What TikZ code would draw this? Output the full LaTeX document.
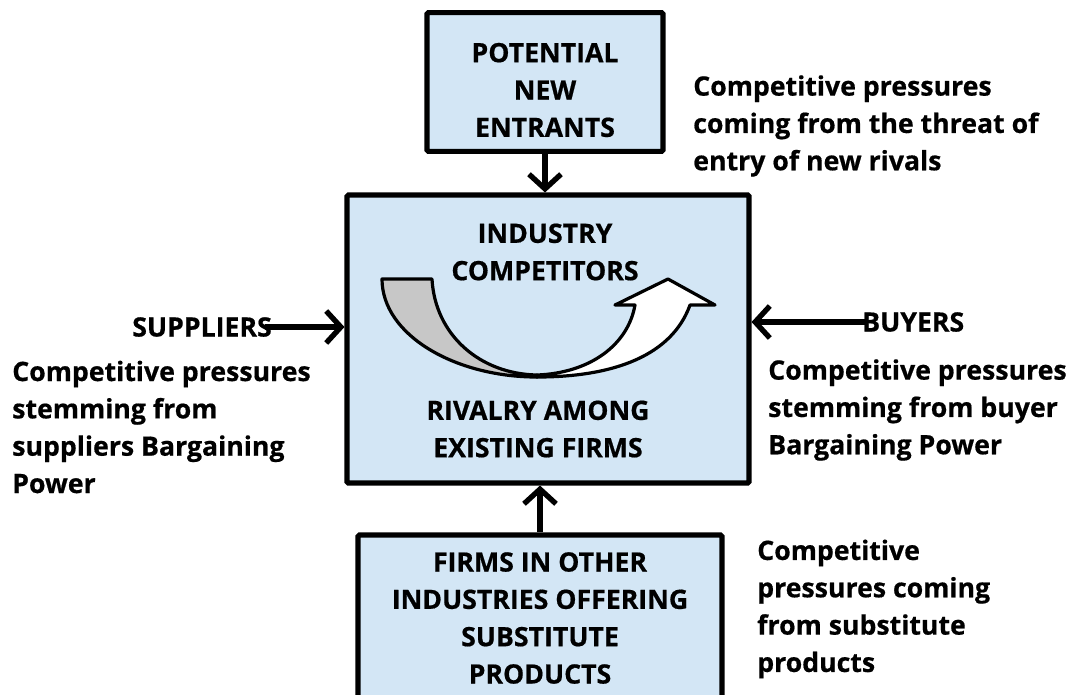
\documentclass[tikz,border=0pt]{standalone}
\usepackage{fontspec}
\setmainfont{Open Sans}[BoldFeatures={FakeBold=0.6}]
\usepackage{tikz}
\usetikzlibrary{positioning,arrows.meta}
\definecolor{boxblue}{RGB}{211,230,245}

\begin{document}
\begin{tikzpicture}[x=0.75pt,y=0.75pt,yscale=-1,xscale=1,
  box/.style={draw=black,line width=3.8pt,fill=boxblue,rounded corners=1pt,inner sep=0pt},
  txt/.style={font=\fontsize{20}{28}\selectfont\bfseries,inner sep=0pt},
  force/.style={line width=4pt,-{Straight Barb[length=11pt,width=24pt]}}]
\clip (0,0) rectangle (1070,694);

%Shape: Rectangle
\draw (545,82) node (entrants) [box,minimum width=177pt,minimum height=104pt] {};
%Shape: Rectangle
\draw (548,339) node (rivalry) [box,minimum width=301.5pt,minimum height=216pt] {};
%Shape: Rectangle
\draw (540,623) node (substitutes) [box,minimum width=273pt,minimum height=132pt] {};

% Text Node
\draw (545,90) node (entrantstxt) [txt,align=center] {POTENTIAL\\NEW\\ENTRANTS};
% Text Node
\draw (545,252) node (industry) [txt,align=center] {INDUSTRY\\COMPETITORS};
% Text Node
\draw (538,429) node (among) [txt,align=center] {RIVALRY AMONG\\EXISTING FIRMS};
% Text Node
\draw (540,618) node (substtxt) [txt,align=center] {FIRMS IN OTHER\\INDUSTRIES OFFERING\\SUBSTITUTE\\PRODUCTS};
% Text Node
\draw (272,327) node (suppliers) [txt,anchor=east] {SUPPLIERS};
% Text Node
\draw (862,322) node (buyers) [txt,anchor=west] {BUYERS};
% Text Node
\draw (693,126) node (entrynote) [txt,anchor=west,align=left] {Competitive pressures\\coming from the threat of\\entry of new rivals};
% Text Node
\draw (12,427) node (suppliernote) [txt,anchor=west,align=left] {Competitive pressures\\stemming from\\suppliers Bargaining\\Power};
% Text Node
\draw (768,410) node (buyernote) [txt,anchor=west,align=left] {Competitive pressures\\stemming from buyer\\Bargaining Power};
% Text Node
\draw (757,609) node (substnote) [txt,anchor=west,align=left] {Competitive\\pressures coming\\from substitute\\products};

%Curve Lines
\draw [line width=2.4pt,fill=black!22,line join=round] (382,279) -- (432,279) .. controls (435,335) and (480,374) .. (537,375) -- (537,377) .. controls (455,377) and (382,335) .. cycle;
%Curve Lines
\draw [line width=2.4pt,fill=white,line join=round] (537,375) .. controls (590,373) and (628,345) .. (635,305) -- (615,305) -- (668,279) -- (715,305) -- (690,305) .. controls (672,355) and (615,377) .. (537,377) -- cycle;

%Straight Lines
\draw [force] (entrants.south) -- (rivalry.north -| entrants.south);
%Straight Lines
\draw [force] (substitutes.north) -- (rivalry.south -| substitutes.north);
%Straight Lines
\draw [force] ([xshift=-5]suppliers.east) -- (rivalry.west |- suppliers.east);
%Straight Lines
\draw [force] ([xshift=3]buyers.west) -- (rivalry.east |- buyers.west);

\end{tikzpicture}
\end{document}
